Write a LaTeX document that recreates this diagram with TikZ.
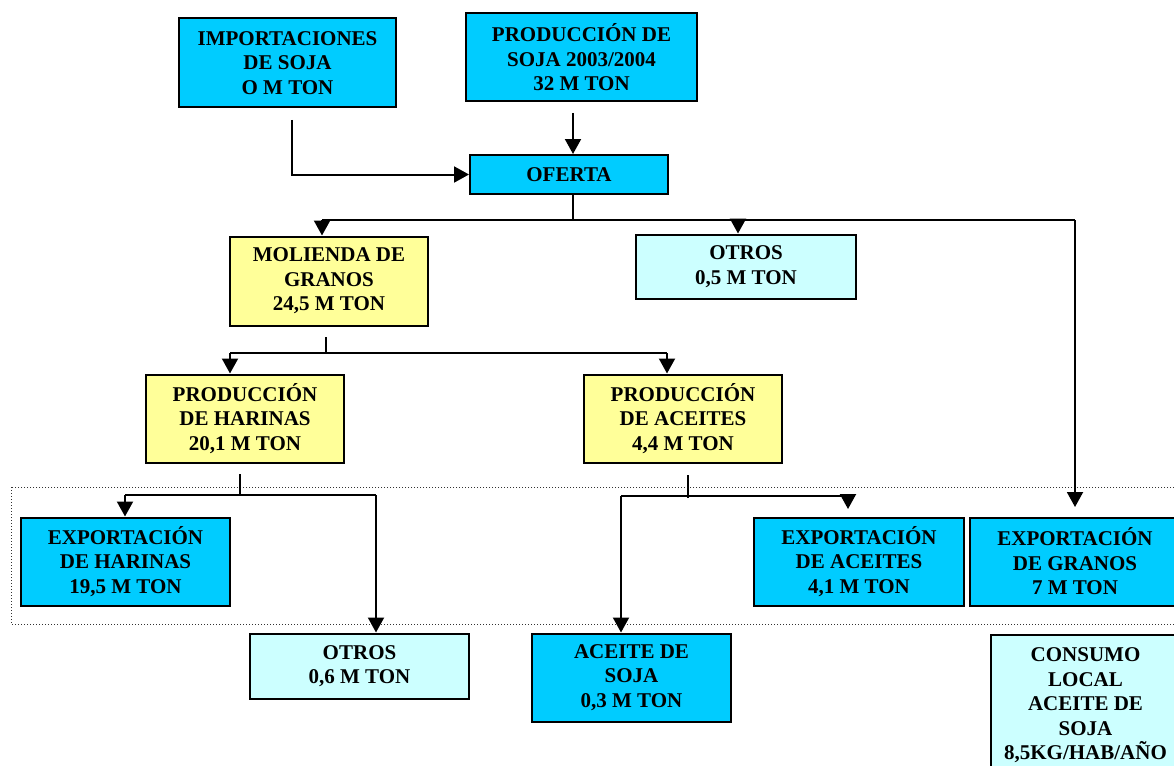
\documentclass[tikz,border=0pt]{standalone}
\usepackage{fontspec}
\setmainfont{Liberation Serif}
\usetikzlibrary{arrows.meta}
\definecolor{boxcyan}{HTML}{00CCFF}
\definecolor{boxyellow}{HTML}{FFFF99}
\definecolor{boxlight}{HTML}{CCFFFF}
\tikzset{
  box/.style={draw=black, line width=2pt, align=center, inner sep=0pt,
    font=\bfseries\fontsize{21}{24.5}\selectfont, text=black},
  bcyan/.style={box, fill=boxcyan},
  byellow/.style={box, fill=boxyellow},
  blight/.style={box, fill=boxlight},
  conn/.style={draw=black, line width=2pt},
  arr/.style={conn, -{Triangle[width=16pt,length=15pt]}},
}
\begin{document}
\begin{tikzpicture}[x=1pt,y=-1pt]
\useasboundingbox (0,0) rectangle (1174,765);
\clip (0,0) rectangle (1174,765);
\fill[white] (0,0) rectangle (1174,765);

% dotted frame
\draw[dotted, line width=1pt, draw=black!80] (11,487) rectangle (1195,624);

% boxes
\node[bcyan, minimum width=217pt, minimum height=89pt] (imp) at (287.5,63) {IMPORTACIONES\\DE SOJA\\O M TON};
\node[bcyan, minimum width=231pt, minimum height=88pt] (prod) at (581.5,57.5) {PRODUCCIÓN DE\\SOJA 2003/2004\\32 M TON};
\node[bcyan, minimum width=198pt, minimum height=39pt] (oferta) at (569,174.5) {OFERTA};
\node[byellow, minimum width=198pt, minimum height=89pt] (mol) at (329,281) {MOLIENDA DE\\GRANOS\\24,5 M TON};
\node[blight, minimum width=220pt, minimum height=64pt] (otros1) at (746,266.5) {OTROS\\0,5 M TON};
\node[byellow, minimum width=198pt, minimum height=88pt] (harinas) at (245,418.5) {PRODUCCIÓN\\DE HARINAS\\20,1 M TON};
\node[byellow, minimum width=198pt, minimum height=88pt] (aceites) at (683,418.5) {PRODUCCIÓN\\DE ACEITES\\4,4 M TON};
\node[bcyan, minimum width=209pt, minimum height=88pt] (expH) at (125.5,561.5) {EXPORTACIÓN\\DE HARINAS\\19,5 M TON};
\node[blight, minimum width=219pt, minimum height=65pt] (otros2) at (359.5,666) {OTROS\\0,6 M TON};
\node[bcyan, minimum width=210pt, minimum height=88pt] (expA) at (859,561.5) {EXPORTACIÓN\\DE ACEITES\\4,1 M TON};
\node[bcyan, minimum width=210pt, minimum height=88pt] (expG) at (1075,561.5) {EXPORTACIÓN\\DE GRANOS\\7 M TON};
\node[bcyan, minimum width=199pt, minimum height=88pt] (soja) at (631.5,677.5) {ACEITE DE\\SOJA\\0,3 M TON};
\node[blight, minimum width=189pt, minimum height=142pt] (consumo) at (1085.5,705.5) {CONSUMO\\LOCAL\\ACEITE DE\\SOJA\\8,5KG/HAB/AÑO};

% connector anchor points
\coordinate (impS) at (292,120);
\coordinate (prodS) at (573,113);
\coordinate (ofS) at (573,220);
\coordinate (molS) at (326,337);
\coordinate (molJ) at (326,353);
\coordinate (harS) at (240,474);
\coordinate (harJ) at (240,495);
\coordinate (aceS) at (688,475);
\coordinate (aceJ) at (688,498);
\coordinate (expAtip) at (848,509);
\coordinate (expGtip) at (1075,507);

% top connectors
\draw[arr] (impS) |- (oferta.west);
\draw[arr] (prodS) -- (prodS |- oferta.north);
\draw[conn] (oferta.south -| ofS) -- (ofS);
\draw[conn] (322,220) -- (1075,220);
\draw[arr] (322,220) -- (322,220 |- mol.north);
\draw[arr] (738,220) -- (738,220 |- otros1.north);
\draw[arr] (1075,220) -- (expGtip);

% molienda
\draw[conn] (molS) -- (molJ);
\draw[conn] (230,353) -- (667,353);
\draw[arr] (230,353) -- (230,353 |- harinas.north);
\draw[arr] (667,353) -- (667,353 |- aceites.north);

% harinas
\draw[conn] (harS) -- (harJ);
\draw[conn] (125,495) -- (376,495);
\draw[arr] (125,495) -- (125,495 |- expH.north);
\draw[arr] (376,495) -- (376,495 |- otros2.north);

% aceites
\draw[conn] (aceS) -- (aceJ);
\draw[conn] (621,496) -- (848,496);
\draw[arr] (848,496) -- (expAtip);
\draw[arr] (621,496) -- (621,496 |- soja.north);
\end{tikzpicture}
\end{document}
